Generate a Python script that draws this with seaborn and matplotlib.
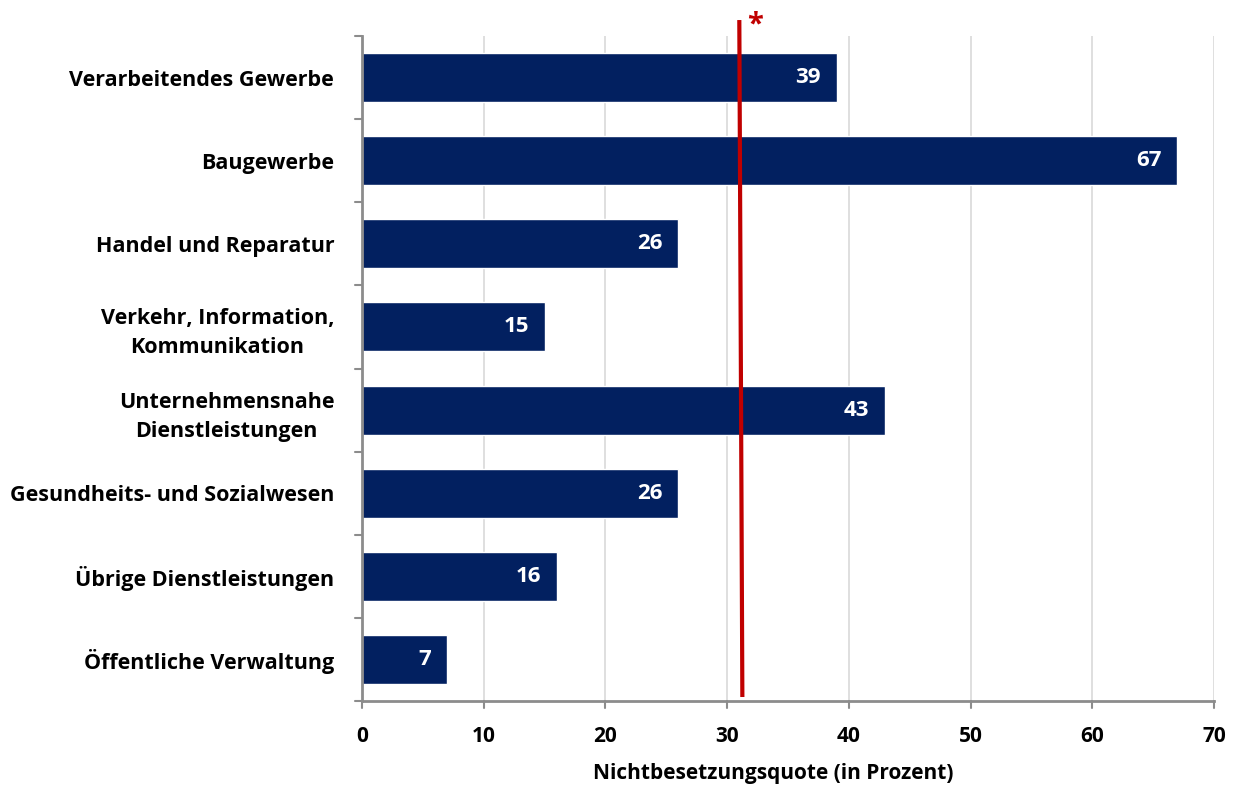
import matplotlib
matplotlib.use("Agg")
import matplotlib.pyplot as plt
import seaborn as sns
import pandas as pd

categories = [
    "Verarbeitendes Gewerbe",
    "Baugewerbe",
    "Handel und Reparatur",
    "Verkehr, Information,\nKommunikation",
    "Unternehmensnahe\nDienstleistungen",
    "Gesundheits- und Sozialwesen",
    "Übrige Dienstleistungen",
    "Öffentliche Verwaltung",
]
quote = [39, 67, 26, 15, 43, 26, 16, 7]
reference_top = 31.0
reference_bottom = 31.25
x_ticks = [0, 10, 20, 30, 40, 50, 60, 70]

sns.set_theme(style="white")
plt.rcParams["font.family"] = ["Open Sans", "DejaVu Sans"]
plt.rcParams["font.weight"] = "bold"
plt.rcParams["text.color"] = "black"
plt.rcParams["xtick.color"] = "black"
plt.rcParams["ytick.color"] = "black"
plt.rcParams["axes.labelcolor"] = "black"

navy = "#022060"
red = "#C00000"
spine_gray = "#8C8C8C"

df = pd.DataFrame({"Branche": categories, "Quote": quote})

fig = plt.figure(figsize=(12.38, 7.89), dpi=100)
ax = fig.add_axes([362 / 1238, 1 - 701 / 789, (1214 - 362) / 1238, (701 - 36) / 789])

sns.barplot(data=df, x="Quote", y="Branche", orient="h", color=navy,
            saturation=1, width=0.59, ax=ax, zorder=3)

ax.set_xlim(0, 70)
ax.set_ylim(len(categories) - 0.5, -0.5)
ax.set_xticks(x_ticks)
ax.set_xticklabels([str(t) for t in x_ticks], fontsize=15, fontweight="bold")
ax.grid(axis="x", color="#D9D9D9", linewidth=1.2, zorder=0)
ax.grid(axis="y", visible=False)

# category labels, multi-line ones centred
ax.set_yticks(range(len(categories)))
ax.set_yticklabels(categories, fontsize=15.5, fontweight="bold", linespacing=1.5)
for lbl in ax.get_yticklabels():
    lbl.set_multialignment("center")
ax.tick_params(axis="y", length=0, pad=20)
ax.tick_params(axis="x", length=0, pad=18)

# category separator ticks on the left spine
for b in [i - 0.5 for i in range(len(categories) + 1)]:
    ax.plot([-0.55, 0], [b, b], color=spine_gray, linewidth=1.5,
            clip_on=False, zorder=4)
# ticks below the x axis
for t in x_ticks:
    ax.plot([t, t], [len(categories) - 0.5, len(categories) - 0.5 + 0.08],
            color=spine_gray, linewidth=1.5, clip_on=False, zorder=4)

for side in ["top", "right"]:
    ax.spines[side].set_visible(False)
for side in ["left", "bottom"]:
    ax.spines[side].set_color(spine_gray)
    ax.spines[side].set_linewidth(2)
    ax.spines[side].set_zorder(5)

# value labels inside the bars
for i, v in enumerate(quote):
    ax.text(v - 1.3, i, str(v), color="white", fontsize=16, fontweight="bold",
            ha="right", va="center", zorder=6)

# reference line with asterisk
tr = ax.get_xaxis_transform()
ax.plot([reference_top, reference_bottom], [1.024, 0.006], color=red,
        linewidth=3, transform=tr, clip_on=False, zorder=7, solid_capstyle="butt")
ax.text(32.3, 1.016, "*", color=red, fontsize=21, fontweight="bold",
        ha="center", va="center", transform=tr)

ax.set_ylabel("")
ax.set_xlabel("Nichtbesetzungsquote (in Prozent)", fontsize=15,
              fontweight="bold")
ax.xaxis.set_label_coords(0.483, -0.093)

fig.savefig("out.png", dpi=100)
